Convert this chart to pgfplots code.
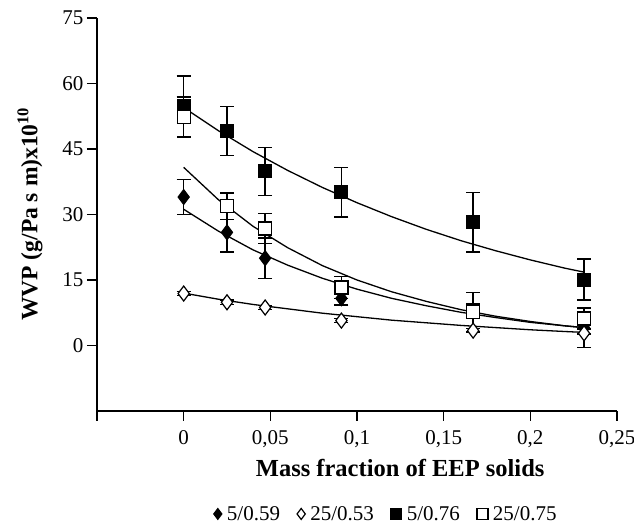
\documentclass[border=0pt]{standalone}
\usepackage{fontspec}
\setmainfont{Liberation Serif}
\usepackage{pgfplots}
\pgfplotsset{compat=1.18}
\begin{document}
\begin{tikzpicture}
\begin{axis}[
  scale only axis, width=520pt, height=393pt,
  xmin=-0.05, xmax=0.25, ymin=-15, ymax=75,
  axis lines*=left, axis line style={line width=1.6pt},
  tick align=outside, major tick length=10pt,
  tick style={line width=1.4pt, black},
  xtick={-0.05,0,0.05,0.1,0.15,0.2,0.25},
  xticklabels={,0,{0,05},{0,1},{0,15},{0,2},{0,25}},
  ytick={0,15,30,45,60,75},
  /pgf/number format/assume math mode=true,
  ticklabel style={font=\fontsize{21}{24}\selectfont},
  xticklabel style={yshift=-6pt},
  xlabel={\textbf{Mass fraction of EEP solids}},
  xlabel style={font=\fontsize{24.5}{28}\selectfont, at={(axis description cs:0.583,-0.145)}, anchor=center},
  ylabel={\textbf{WVP (g/Pa s m)x10\textsuperscript{10}}},
  ylabel style={font=\fontsize{23.5}{27}\selectfont, at={(axis description cs:-0.129,0.501)}, anchor=center, rotate=0},
  legend columns=4,
  legend style={draw=none, fill=none, at={(axis description cs:0.556,-0.262)}, anchor=center,
    font=\fontsize{21}{24}\selectfont, column sep=3pt, inner sep=1pt,
    /tikz/every even column/.append style={column sep=15pt}},
  legend image code/.code={\draw[mark size=5.5pt] plot coordinates {(0.15cm,0cm)};},
  clip=false,
]
% fitted curves
\addplot[black, line width=1.3pt, forget plot] coordinates {
(0,31.2)(0.02,26.2)(0.04,21.9)(0.06,18.4)(0.08,15.4)(0.10,12.9)(0.12,10.8)(0.14,9.1)(0.16,7.6)(0.18,6.4)(0.20,5.3)(0.22,4.5)(0.231,4.1)};
\addplot[black, line width=1.3pt, forget plot] coordinates {
(0,12.0)(0.02,10.6)(0.04,9.4)(0.06,8.4)(0.08,7.4)(0.10,6.6)(0.12,5.8)(0.14,5.2)(0.16,4.6)(0.18,4.1)(0.20,3.6)(0.22,3.2)(0.231,3.0)};
\addplot[black, line width=1.3pt, forget plot] coordinates {
(0,54.5)(0.02,49.2)(0.04,44.4)(0.06,40.1)(0.08,36.2)(0.10,32.7)(0.12,29.5)(0.14,26.6)(0.16,24.0)(0.18,21.7)(0.20,19.6)(0.22,17.7)(0.231,16.8)};
\addplot[black, line width=1.3pt, forget plot] coordinates {
(0,40.8)(0.02,33.4)(0.04,27.3)(0.06,22.4)(0.08,18.3)(0.10,15.0)(0.12,12.3)(0.14,10.1)(0.16,8.2)(0.18,6.7)(0.20,5.5)(0.22,4.5)(0.231,4.1)};
% 5/0.59 filled diamonds
\addplot[only marks, mark=diamond*, mark size=7.5pt, mark options={fill=black, draw=black, line width=1pt},
  error bars/.cd, y dir=both, y explicit, error bar style={line width=1.3pt, black},
  error mark options={rotate=90, mark size=7pt, line width=1.3pt}]
  coordinates {
(0,34.0) +- (0,4.0)
(0.025,25.9) +- (0,4.5)
(0.047,20.0) +- (0,4.6)
(0.091,10.8) +- (0,1.5)
(0.167,8.0) +- (0,1.5)
(0.231,4.1) +- (0,1.5)};
\addlegendentry{5/0.59}
% 25/0.53 open diamonds
\addplot[only marks, mark=diamond*, mark size=7.5pt, mark options={fill=white, draw=black, line width=1.2pt},
  error bars/.cd, y dir=both, y explicit, error bar style={line width=1.3pt, black},
  error mark options={rotate=90, mark size=7pt, line width=1.3pt}]
  coordinates {
(0,11.9) +- (0,0.5)
(0.025,9.9) +- (0,0.5)
(0.047,8.7) +- (0,0.5)
(0.091,5.7) +- (0,0.5)
(0.167,3.4) +- (0,0.5)
(0.231,2.8) +- (0,3.3)};
\addlegendentry{25/0.53}
% 5/0.76 filled squares
\addplot[only marks, mark=square*, mark size=6.5pt, mark options={fill=black, draw=black, line width=1pt},
  error bars/.cd, y dir=both, y explicit, error bar style={line width=1.3pt, black},
  error mark options={rotate=90, mark size=7pt, line width=1.3pt}]
  coordinates {
(0,54.8) +- (0,6.9)
(0.025,49.1) +- (0,5.6)
(0.047,39.9) +- (0,5.5)
(0.091,35.1) +- (0,5.7)
(0.167,28.2) +- (0,6.8)
(0.231,15.1) +- (0,4.7)};
\addlegendentry{5/0.76}
% 25/0.75 open squares
\addplot[only marks, mark=square*, mark size=6.5pt, mark options={fill=white, draw=black, line width=1.2pt},
  error bars/.cd, y dir=both, y explicit, error bar style={line width=1.3pt, black},
  error mark options={rotate=90, mark size=7pt, line width=1.3pt}]
  coordinates {
(0,52.3) +- (0,4.6)
(0.025,31.9) +- (0,3.0)
(0.047,26.8) +- (0,3.5)
(0.091,13.3) +- (0,2.5)
(0.167,7.7) +- (0,4.5)
(0.231,6.2) +- (0,2.4)};
\addlegendentry{25/0.75}
\end{axis}
\pgfresetboundingbox
\path[use as bounding box] (-97pt,-115pt) rectangle (537pt,411pt);
\end{tikzpicture}
\end{document}
